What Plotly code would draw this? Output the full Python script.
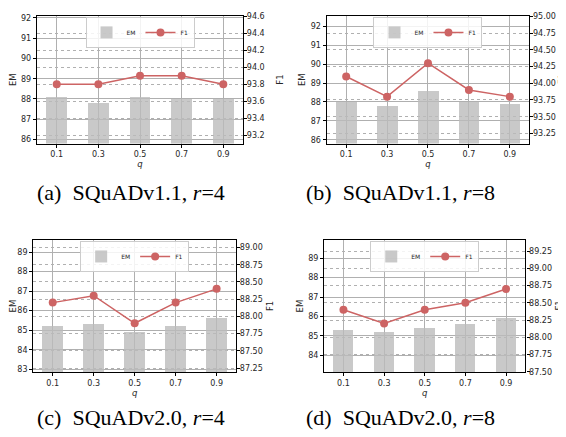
import plotly.graph_objects as go

q_labels = ["0.1", "0.3", "0.5", "0.7", "0.9"]

em_a = [88.1, 87.8, 88.1, 88.0, 88.0]
f1_a = [93.8, 93.8, 93.9, 93.9, 93.8]
em_b = [88.0, 87.8, 88.6, 88.0, 87.9]
f1_b = [94.1, 93.8, 94.3, 93.9, 93.8]
em_c = [85.2, 85.3, 84.9, 85.2, 85.6]
f1_c = [88.2, 88.3, 87.9, 88.2, 88.4]
em_d = [85.3, 85.2, 85.4, 85.6, 85.9]
f1_d = [88.4, 88.2, 88.4, 88.5, 88.7]

captions = ["(a)\u00a0 SQuADv1.1, <i>r</i>=4", "(b)\u00a0 SQuADv1.1, <i>r</i>=8",
            "(c)\u00a0 SQuADv2.0, <i>r</i>=4", "(d)\u00a0 SQuADv2.0, <i>r</i>=8"]

# the page body has an 8px default margin; the figure is sized so that it fills the window
OFF = 8
W, H = 566 - OFF, 437 - OFF


def X(px):
    return (px - OFF) / W


def Y(py):
    return 1 - (py - OFF) / H


BAR = "#bcbcbc"
LINE = "#cd6464"
TXT = "#262626"

panels = [
    dict(em=em_a, f1=f1_a, px=(36, 242.5), py=(12, 142), yl=(85.8, 92.1), yr=(93.1, 94.605), dr=0.2, fr=".1f", cap=(130, 191.5), f1x=279.5),
    dict(em=em_b, f1=f1_b, px=(326.3, 529.2), py=(12, 142), yl=(85.8, 92.55), yr=(93.1, 95.005), dr=0.25, fr=".2f", cap=(400, 191.5), f1x=561.5),
    dict(em=em_c, f1=f1_c, px=(32.3, 235.5), py=(240.3, 375), yl=(82.85, 89.62), yr=(87.19, 89.11), dr=0.25, fr=".2f", cap=(130, 421.5), f1x=269.5),
    dict(em=em_d, f1=f1_d, px=(323.7, 525.3), py=(240.3, 375), yl=(83.14, 89.93), yr=(87.495, 89.41), dr=0.25, fr=".2f", cap=(400, 421.5), f1x=559.5),
]

fig = go.Figure()
tickfont = dict(family="DejaVu Sans", size=8, color=TXT)
titlefont = dict(family="DejaVu Sans", size=8.5, color=TXT)
annotations = []
for i, p in enumerate(panels):
    n = i + 1
    xa = "x" if n == 1 else f"x{n}"
    yl = f"y{2*n-1}" if n > 1 else "y"
    yr = f"y{2*n}"
    leg = "legend" if n == 1 else f"legend{n}"
    fig.add_trace(go.Bar(x=list(range(5)), y=p["em"], name="EM",
                         marker=dict(color=BAR, line=dict(width=0)), opacity=0.8,
                         width=0.5, xaxis=xa, yaxis=yl, legend=leg))
    fig.add_trace(go.Scatter(x=list(range(5)), y=p["f1"], name="F1", mode="lines+markers",
                             line=dict(color=LINE, width=1.5), marker=dict(color=LINE, size=8),
                             xaxis=xa, yaxis=yr, legend=leg))
    xd = [X(p["px"][0]), X(p["px"][1])]
    yd = [Y(p["py"][1]), Y(p["py"][0])]
    xkey = "xaxis" if n == 1 else f"xaxis{n}"
    ylkey = "yaxis" if n == 1 else f"yaxis{2*n-1}"
    yrkey = f"yaxis{2*n}"
    fig.layout[xkey] = dict(domain=xd, anchor=yl, range=[-0.475, 4.475], tickmode="array",
                            tickvals=list(range(5)), ticktext=q_labels, showgrid=True,
                            gridcolor="#b0b0b0", gridwidth=1, showline=True, linecolor="black",
                            linewidth=1.3, mirror=True, ticks="outside", ticklen=3, tickcolor="black",
                            tickfont=tickfont, zeroline=False,
                            title=dict(text="<i>q</i>", font=titlefont, standoff=0))
    fig.layout[ylkey] = dict(domain=yd, anchor=xa, range=list(p["yl"]), dtick=1, showgrid=True,
                             gridcolor="#b0b0b0", gridwidth=1, showline=True, linecolor="black",
                             linewidth=1.3, ticks="outside", ticklen=3, tickcolor="black",
                             tickfont=tickfont, zeroline=False,
                             title=dict(text="EM", font=titlefont, standoff=3))
    fig.layout[yrkey] = dict(overlaying=yl, side="right", anchor=xa, range=list(p["yr"]), dtick=p["dr"],
                             tickformat=p["fr"], showgrid=True, gridcolor="#b0b0b0", griddash="dot",
                             gridwidth=1, showline=True, linecolor="black", linewidth=1.3,
                             ticks="outside", ticklen=3, tickcolor="black", tickfont=tickfont,
                             ticklabelstandoff=-2, zeroline=False)
    fig.layout[leg] = dict(x=(xd[0] + xd[1]) / 2, xanchor="center", y=yd[1] - 1.0 / H, yanchor="top",
                           orientation="h", font=dict(family="DejaVu Sans", size=6, color=TXT),
                           bgcolor="rgba(255,255,255,0.85)", bordercolor="#cccccc", borderwidth=1,
                           itemwidth=30, tracegroupgap=0, entrywidth=0)
    # right-axis title
    annotations.append(dict(text="F1", x=X(p["f1x"]), y=(yd[0] + yd[1]) / 2, xref="paper", yref="paper",
                            xanchor="center", yanchor="middle", textangle=-90, showarrow=False,
                            font=titlefont))
    annotations.append(dict(text=captions[i], x=X(p["cap"][0]), y=Y(p["cap"][1]),
                            xref="paper", yref="paper", xanchor="center", yanchor="middle",
                            showarrow=False, font=dict(family="Liberation Serif", size=22, color="black")))

fig.update_layout(width=W, height=H, margin=dict(l=0, r=0, t=0, b=0), plot_bgcolor="white",
                  paper_bgcolor="white", annotations=annotations, bargap=0)
fig.write_html("out.html")
